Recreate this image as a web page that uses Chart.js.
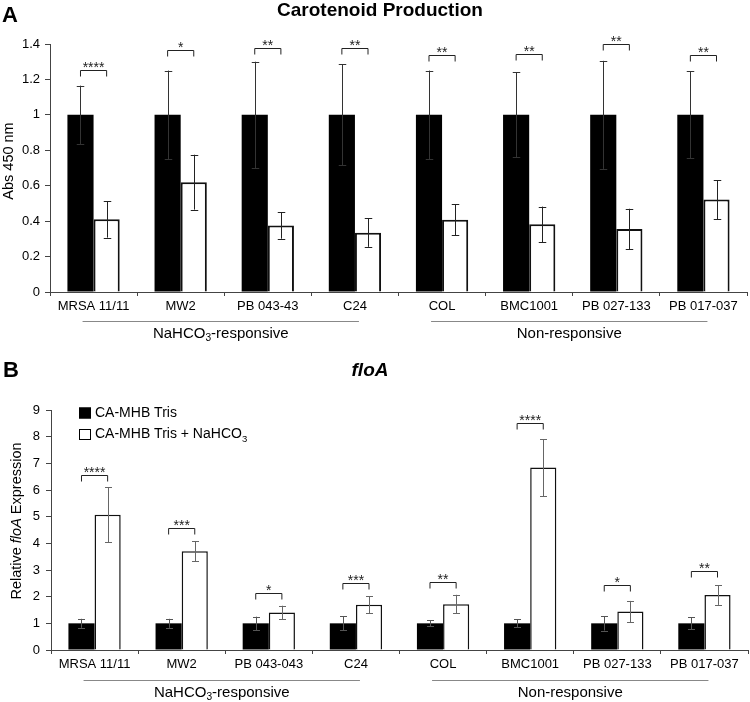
<!DOCTYPE html>
<html>
<head>
<meta charset="utf-8">
<script src="https://cdn.jsdelivr.net/npm/chart.js@4.4.1/dist/chart.umd.min.js"></script>
<style>
  body { margin: 0; background: #fff; }
  #wrap { position: relative; width: 750px; height: 702px; }
  .panel { position: absolute; left: 0; width: 750px; height: 351px; }
</style>
</head>
<body>
<div id="wrap">
  <div class="panel" style="top:0"><canvas id="chartA" width="750" height="351"></canvas></div>
  <div class="panel" style="top:351px"><canvas id="chartB" width="750" height="351"></canvas></div>
</div>
<script>
const FONT = "'Liberation Sans', Arial, sans-serif";

// panel A - carotenoid
const strainsA = ['MRSA 11/11', 'MW2', 'PB 043-43', 'C24', 'COL', 'BMC1001', 'PB 027-133', 'PB 017-037'];
const caroTris = [1, 1, 1, 1, 1, 1, 1, 1];
const caroTrisErr = [0.165, 0.25, 0.3, 0.285, 0.25, 0.24, 0.305, 0.245];
const caroBicarb = [0.41, 0.62, 0.375, 0.335, 0.408, 0.382, 0.355, 0.522];
const caroBicarbErr = [0.103, 0.155, 0.074, 0.08, 0.088, 0.1, 0.115, 0.11];
const caroSig = [1.255, 1.368, 1.378, 1.378, 1.34, 1.344, 1.4, 1.34];
const caroStars = ['****', '*', '**', '**', '**', '**', '**', '**'];
const tickLabelsA = ['0', '0.2', '0.4', '0.6', '0.8', '1', '1.2', '1.4'];

// panel B - floA
const strainsB = ['MRSA 11/11', 'MW2', 'PB 043-043', 'C24', 'COL', 'BMC1001', 'PB 027-133', 'PB 017-037'];
const floaTris = [1, 1, 1, 1, 1, 1, 1, 1];
const floaTrisErr = [0.17, 0.17, 0.25, 0.26, 0.11, 0.15, 0.27, 0.22];
const floaBicarb = [5.07, 3.7, 1.41, 1.7, 1.72, 6.84, 1.44, 2.06];
const floaBicarbErr = [1.03, 0.37, 0.25, 0.32, 0.35, 1.07, 0.4, 0.37];
const floaSig = [6.57, 4.59, 2.12, 2.53, 2.55, 8.5, 2.42, 2.97];
const floaStars = ['****', '***', '*', '***', '**', '****', '*', '**'];
const tickLabelsB = ['0', '1', '2', '3', '4', '5', '6', '7', '8', '9'];

const seriesNames = ['CA-MHB Tris', 'CA-MHB Tris + NaHCO3'];
const groupNames = ['NaHCO3-responsive', 'Non-responsive'];
const groupSpans = [[0, 3], [4, 7]];

// draws text, putting the 3 of NaHCO3 as a subscript
function drawRich(ctx, text, x, y, size, align, style) {
  style = style || '';
  const parts = [];
  text.split('NaHCO3').forEach((chunk, i) => {
    if (i > 0) { parts.push({ t: 'NaHCO' }); parts.push({ t: '3', sub: true }); }
    if (chunk) parts.push({ t: chunk });
  });
  let total = 0;
  parts.forEach(p => {
    ctx.font = style + (p.sub ? size * 0.68 : size) + 'px ' + FONT;
    p.w = ctx.measureText(p.t).width;
    total += p.w;
  });
  let cx = align === 'center' ? x - total / 2 : x;
  ctx.textAlign = 'left';
  ctx.textBaseline = 'middle';
  parts.forEach(p => {
    ctx.font = style + (p.sub ? size * 0.68 : size) + 'px ' + FONT;
    ctx.fillText(p.t, cx, p.sub ? y + size * 0.32 : y);
    cx += p.w;
  });
}

function overlay(o) {
  return {
    id: 'overlay',
    afterDatasetsDraw(chart) {
      const ctx = chart.ctx;
      const ys = chart.scales.y, xs = chart.scales.x;
      ctx.save();
      // error bars
      o.errs.forEach((errs, di) => {
        const meta = chart.getDatasetMeta(di);
        const vals = chart.data.datasets[di].data;
        ctx.strokeStyle = o.errColor[di];
        ctx.lineWidth = 1;
        meta.data.forEach((bar, j) => {
          const x = Math.round(bar.x) + 0.5;
          const y1 = ys.getPixelForValue(vals[j] + errs[j]);
          const y2 = ys.getPixelForValue(vals[j] - errs[j]);
          ctx.beginPath();
          ctx.moveTo(x, y1); ctx.lineTo(x, y2);
          ctx.moveTo(x - o.cap, Math.round(y1) + 0.5); ctx.lineTo(x + o.cap, Math.round(y1) + 0.5);
          ctx.moveTo(x - o.cap, Math.round(y2) + 0.5); ctx.lineTo(x + o.cap, Math.round(y2) + 0.5);
          ctx.stroke();
        });
      });
      // significance brackets
      const m0 = chart.getDatasetMeta(0), m1 = chart.getDatasetMeta(1);
      ctx.strokeStyle = '#222';
      ctx.fillStyle = '#222';
      o.sig.forEach((v, j) => {
        const y = Math.round(ys.getPixelForValue(v)) + 0.5;
        const xa = m0.data[j].x, xb = m1.data[j].x;
        ctx.beginPath();
        ctx.moveTo(xa, y + 6); ctx.lineTo(xa, y); ctx.lineTo(xb, y); ctx.lineTo(xb, y + 6);
        ctx.stroke();
        ctx.font = '14px ' + FONT;
        ctx.textAlign = 'center';
        ctx.textBaseline = 'alphabetic';
        ctx.fillText(o.stars[j], (xa + xb) / 2, y + 1);
      });
      // group lines under the x labels
      const bottom = chart.chartArea.bottom;
      groupSpans.forEach((s, g) => {
        const xa = xs.getPixelForValue(s[0]) - 11;
        const xb = xs.getPixelForValue(s[1]) + 4;
        ctx.strokeStyle = '#888';
        ctx.beginPath();
        ctx.moveTo(xa, bottom + o.lineOff + 0.5); ctx.lineTo(xb, bottom + o.lineOff + 0.5);
        ctx.stroke();
        ctx.fillStyle = '#000';
        drawRich(ctx, groupNames[g], (xa + xb) / 2, bottom + o.lineOff + 12.5, 15, 'center');
      });
      // panel letter and title
      ctx.fillStyle = '#000';
      ctx.font = 'bold 22px ' + FONT;
      ctx.textAlign = 'left';
      ctx.textBaseline = 'alphabetic';
      ctx.fillText(o.letter, o.letterX, o.letterY);
      ctx.font = o.titleStyle + ' 19px ' + FONT;
      ctx.textAlign = 'center';
      ctx.textBaseline = 'middle';
      ctx.fillText(o.title, o.titleX, o.titleY);
      // y axis title (rotated)
      ctx.translate(o.yTitleX, o.yTitleY);
      ctx.rotate(-Math.PI / 2);
      let total = 0;
      o.yTitle.forEach(p => { ctx.font = p.s + '14.5px ' + FONT; p.w = ctx.measureText(p.t).width; total += p.w; });
      let cx = -total / 2;
      ctx.textAlign = 'left';
      o.yTitle.forEach(p => { ctx.font = p.s + '14.5px ' + FONT; ctx.fillText(p.t, cx, 0); cx += p.w; });
      ctx.setTransform(1, 0, 0, 1, 0, 0);
      // legend (panel B only)
      if (o.legend) {
        chart.data.datasets.forEach((ds, i) => {
          const cy = o.legend.y + i * 21.5;
          ctx.fillStyle = ds.backgroundColor;
          ctx.fillRect(o.legend.x, cy - 5.5, 12, 11);
          ctx.strokeStyle = '#000';
          ctx.lineWidth = 1;
          ctx.strokeRect(o.legend.x + 0.5, cy - 5, 11, 10);
          ctx.fillStyle = '#000';
          drawRich(ctx, ds.label, o.legend.x + 16, cy, 14, 'left');
        });
      }
      ctx.restore();
    }
  };
}

function makeChart(id, labels, d0, d1, yMax, step, tickLabels, tickPad, pad, yWidth, xHeight, border, o) {
  return new Chart(document.getElementById(id), {
    type: 'bar',
    data: {
      labels: labels,
      datasets: [
        { label: seriesNames[0], data: d0, backgroundColor: '#000', borderWidth: 0,
          categoryPercentage: 0.6, barPercentage: 1.0 },
        { label: seriesNames[1], data: d1, backgroundColor: '#fff', borderColor: '#111', borderWidth: border,
          categoryPercentage: 0.6, barPercentage: 1.0 }
      ]
    },
    options: {
      responsive: false,
      animation: false,
      layout: { padding: pad },
      plugins: { legend: { display: false }, title: { display: false }, tooltip: { enabled: false } },
      scales: {
        x: {
          grid: { display: true, drawOnChartArea: false, drawTicks: true, tickLength: 4, color: '#444', offset: true },
          border: { display: true, color: '#444', width: 1 },
          ticks: { color: '#000', font: { family: FONT, size: 13 }, padding: 3, maxRotation: 0, autoSkip: false },
          afterFit: s => { s.height = xHeight; }
        },
        y: {
          min: 0, max: yMax,
          grid: { display: true, drawOnChartArea: false, drawTicks: true, tickLength: 5, color: '#444' },
          border: { display: true, color: '#444', width: 1 },
          ticks: { stepSize: step, color: '#000', font: { family: FONT, size: 13 }, padding: tickPad,
                   callback: (v, i) => tickLabels[i] },
          afterFit: s => { s.width = yWidth; }
        }
      }
    },
    plugins: [overlay(o)]
  });
}

makeChart('chartA', strainsA, caroTris, caroBicarb, 1.4, 0.2, tickLabelsA, 5,
  { top: 44, left: 0, right: 3, bottom: 0 }, 50, 59, 2,
  { errs: [caroTrisErr, caroBicarbErr], errColor: ['#333', '#222'], cap: 3.75,
    sig: caroSig, stars: caroStars, lineOff: 29,
    letter: 'A', letterX: 2, letterY: 22,
    title: 'Carotenoid Production', titleStyle: 'bold', titleX: 380, titleY: 11,
    yTitle: [{ t: 'Abs 450 nm', s: '' }], yTitleX: 9, yTitleY: 161 });

makeChart('chartB', strainsB, floaTris, floaBicarb, 9, 1, tickLabelsB, 6,
  { top: 59, left: 0, right: 2, bottom: 0 }, 51, 52, 1.5,
  { errs: [floaTrisErr, floaBicarbErr], errColor: ['#555', '#666'], cap: 3.5,
    sig: floaSig, stars: floaStars, lineOff: 30,
    letter: 'B', letterX: 3, letterY: 26,
    title: 'floA', titleStyle: 'italic bold', titleX: 370, titleY: 20,
    yTitle: [{ t: 'Relative ', s: '' }, { t: 'floA', s: 'italic ' }, { t: ' Expression', s: '' }],
    yTitleX: 17, yTitleY: 170,
    legend: { x: 79, y: 62 } });
</script>
</body>
</html>
